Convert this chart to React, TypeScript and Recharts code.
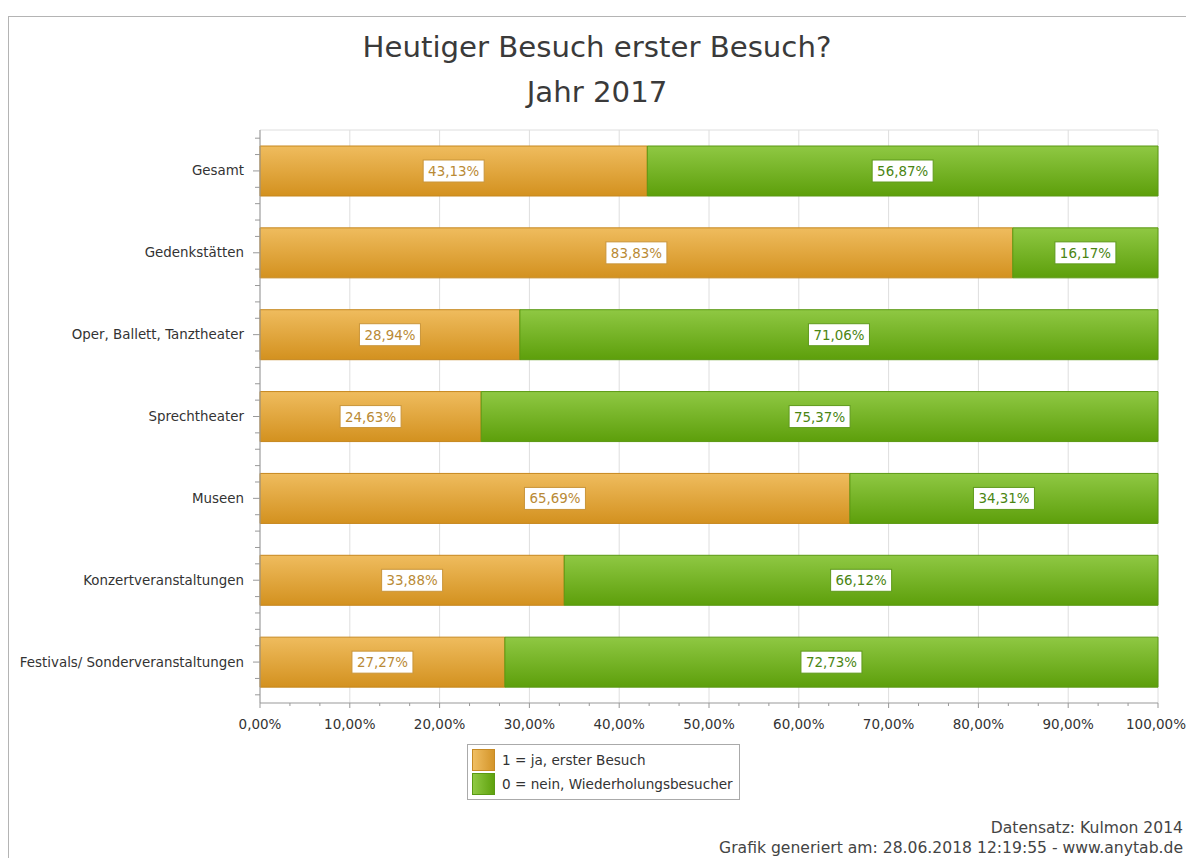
import React from 'react';
import { BarChart, Bar, XAxis, YAxis, CartesianGrid, LabelList } from 'recharts';

const categories = [
  'Gesamt',
  'Gedenkstätten',
  'Oper, Ballett, Tanztheater',
  'Sprechtheater',
  'Museen',
  'Konzertveranstaltungen',
  'Festivals/ Sonderveranstaltungen',
];
const firstVisit = [43.13, 83.83, 28.94, 24.63, 65.69, 33.88, 27.27];
const repeatVisit = [56.87, 16.17, 71.06, 75.37, 34.31, 66.12, 72.73];
const xTicks = [0, 10, 20, 30, 40, 50, 60, 70, 80, 90, 100];
const seriesNames = ['1 = ja, erster Besuch', '0 = nein, Wiederholungsbesucher'];

const data = categories.map((name, i) => ({ name, first: firstVisit[i], repeat: repeatVisit[i] }));

const FONT = '"DejaVu Sans", Verdana, sans-serif';
const CHART_W = 1186;
const CHART_H = 740;
const MARGIN = { top: 130, right: 28, bottom: 0, left: 0 };
const Y_W = 260;
const X_H = 37;
const PLOT_W = CHART_W - MARGIN.left - MARGIN.right - Y_W;
const PLOT_H = CHART_H - MARGIN.top - MARGIN.bottom - X_H;

const fmt = (v: number) => v.toFixed(2).replace('.', ',') + '%';

// y ticks: label + minor ticks between categories
const YTick = (props: any) => {
  const { x, y, payload } = props;
  const step = PLOT_H / categories.length / 5;
  const ax = x + 16; // axis x position
  const minors = [-2, -1, 1, 2];
  return (
    <g>
      {minors.map((k) => (
        <line key={k} x1={ax - 5} x2={ax} y1={y + k * step} y2={y + k * step} stroke="#999" />
      ))}
      <text x={x} y={y} dy={4.5} textAnchor="end" fontSize={13.4} fill="#333" fontFamily={FONT}>
        {payload.value}
      </text>
    </g>
  );
};

const XTick = (props: any) => {
  const { x, y, payload } = props;
  const step = PLOT_W / 10 / 3;
  const ay = y - 8;
  const last = payload.value === 100;
  return (
    <g>
      {!last &&
        [1, 2].map((k) => (
          <line key={k} x1={x + k * step} x2={x + k * step} y1={ay} y2={ay + 3} stroke="#999" />
        ))}
      <text x={last ? x - 2 : x} y={y} dy={18} textAnchor="middle" fontSize={13.5} fill="#333" fontFamily={FONT}>
        {fmt(payload.value)}
      </text>
    </g>
  );
};

const makeLabel = (border: string, color: string) => (props: any) => {
  const { x, y, width, height, value } = props;
  const cx = x + width / 2;
  const cy = y + height / 2;
  const w = 61;
  const h = 22;
  return (
    <g>
      <rect x={cx - w / 2} y={cy - h / 2} width={w} height={h} fill="#fff" stroke={border} strokeWidth={1} />
      <text x={cx} y={cy} dy={5} textAnchor="middle" fontSize={13.4} fill={color} fontFamily={FONT}>
        {fmt(value)}
      </text>
    </g>
  );
};

const LegendBox = () => (
  <div
    style={{
      position: 'absolute',
      left: 467,
      top: 744,
      border: '1px solid #aaa',
      width: 267,
      padding: '3px 0 3px 4px',
      background: '#fff',
      fontFamily: FONT,
      fontSize: 13.6,
      color: '#333',
    }}
  >
    {seriesNames.map((n, i) => (
      <div key={n} style={{ display: 'flex', alignItems: 'center', height: 24 }}>
        <div
          style={{
            width: 23,
            height: 22,
            marginRight: 7,
            boxSizing: 'border-box',
            border: `1px solid ${i === 0 ? '#c68a25' : '#5a9a14'}`,
            background:
              i === 0
                ? 'linear-gradient(90deg, #f0be62, #d4952a)'
                : 'linear-gradient(90deg, #8fc943, #5fa20e)',
          }}
        />
        {n}
      </div>
    ))}
  </div>
);

export default function App() {
  return (
    <div style={{ position: 'fixed', left: 0, top: 0, width: 1186, height: 858, background: '#fff', overflow: 'hidden' }}>
      <div
        style={{
          position: 'absolute',
          left: 8,
          top: 16,
          width: 1190,
          height: 860,
          borderTop: '1px solid #b4b4b4',
          borderLeft: '1px solid #b4b4b4',
        }}
      />
      <div
        style={{
          position: 'absolute',
          left: 8,
          width: 1178,
          top: 25,
          textAlign: 'center',
          fontFamily: FONT,
          fontSize: 29.2,
          lineHeight: '45px',
          color: '#3a3a3a',
        }}
      >
        Heutiger Besuch erster Besuch?
        <br />
        Jahr 2017
      </div>
      <div style={{ position: 'absolute', left: 0, top: 0 }}>
        <BarChart
          width={CHART_W}
          height={CHART_H}
          data={data}
          layout="vertical"
          margin={MARGIN}
          barSize={50}
        >
          <defs>
            <linearGradient id="gOrange" x1="0" y1="0" x2="0" y2="1">
              <stop offset="0%" stopColor="#efbc5e" />
              <stop offset="100%" stopColor="#d3911f" />
            </linearGradient>
            <linearGradient id="gGreen" x1="0" y1="0" x2="0" y2="1">
              <stop offset="0%" stopColor="#8fc843" />
              <stop offset="100%" stopColor="#5d9f0b" />
            </linearGradient>
          </defs>
          <CartesianGrid
            stroke="#dedede"
            horizontalCoordinatesGenerator={({ offset }: any) => [offset.top]}
          />
          <XAxis
            type="number"
            domain={[0, 100]}
            ticks={xTicks}
            height={X_H}
            tick={<XTick />}
            tickSize={5}
            tickMargin={3}
            axisLine={{ stroke: '#999' }}
            tickLine={{ stroke: '#999' }}
            interval={0}
          />
          <YAxis
            type="category"
            dataKey="name"
            width={Y_W}
            tick={<YTick />}
            tickSize={7}
            tickMargin={9}
            axisLine={{ stroke: '#999' }}
            tickLine={{ stroke: '#999' }}
            interval={0}
          />
          <Bar dataKey="first" stackId="a" name={seriesNames[0]} fill="url(#gOrange)" stroke="#c6871d" strokeWidth={1} isAnimationActive={false}>
            <LabelList dataKey="first" content={makeLabel('#c9953a', '#b98a35')} />
          </Bar>
          <Bar dataKey="repeat" stackId="a" name={seriesNames[1]} fill="url(#gGreen)" stroke="#5a9812" strokeWidth={1} isAnimationActive={false}>
            <LabelList dataKey="repeat" content={makeLabel('#5f9a1c', '#4a8512')} />
          </Bar>
        </BarChart>
      </div>
      <LegendBox />
      <div
        style={{
          position: 'absolute',
          right: 3,
          top: 818,
          textAlign: 'right',
          fontFamily: FONT,
          fontSize: 15.6,
          lineHeight: '20px',
          color: '#444',
        }}
      >
        Datensatz: Kulmon 2014
        <br />
        Grafik generiert am: 28.06.2018 12:19:55 - www.anytab.de
      </div>
    </div>
  );
}
